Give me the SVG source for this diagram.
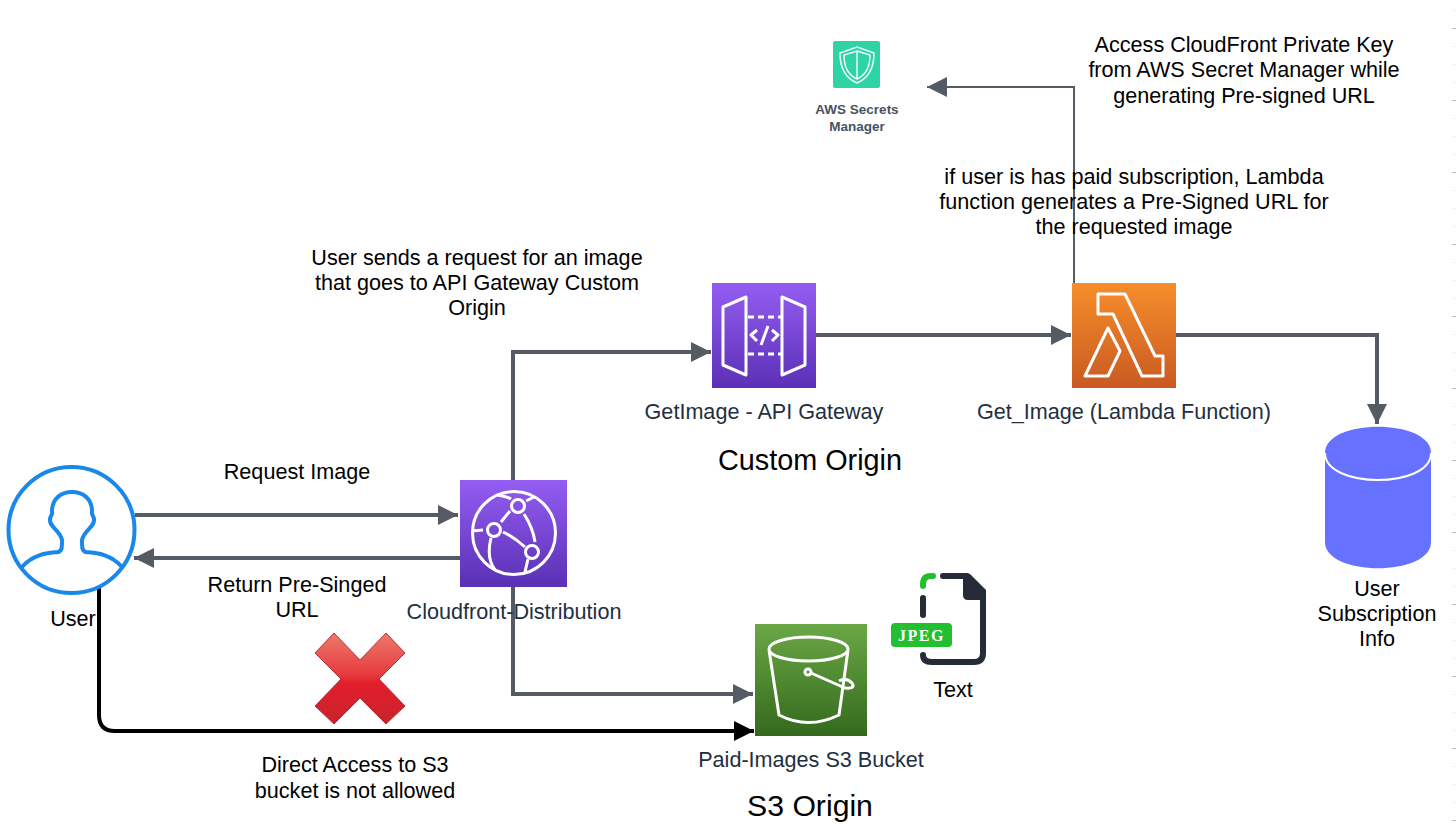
<svg xmlns="http://www.w3.org/2000/svg" width="1456" height="836" viewBox="0 0 1456 836">
<style>
text{font-family:"Liberation Sans",Arial,sans-serif;font-size:21.600px;fill:#000;text-anchor:middle}
.aws{fill:#232f3e}
.big{font-size:28.800px}
.w{fill:none;stroke:#fff;stroke-width:3;stroke-linejoin:round}
.c{fill:none;stroke:#545b64;stroke-width:4}
.b{fill:none;stroke:#000;stroke-width:4}
.u{fill:none;stroke:#1a88ea;stroke-width:4}
</style>
<defs>
<linearGradient id="pur" x1="0" y1="0" x2="0" y2="1"><stop offset="0" stop-color="#945df2"/><stop offset="1" stop-color="#5a30b5"/></linearGradient>
<linearGradient id="ora" x1="0" y1="0" x2="0" y2="1"><stop offset="0" stop-color="#f78e2a"/><stop offset="1" stop-color="#c95a22"/></linearGradient>
<linearGradient id="grn" x1="0" y1="0" x2="0" y2="1"><stop offset="0" stop-color="#6aa845"/><stop offset="1" stop-color="#34691d"/></linearGradient>
<linearGradient id="red" x1="0" y1="0" x2="0" y2="1"><stop offset="0" stop-color="#ee7a6a"/><stop offset="0.45" stop-color="#e63c40"/><stop offset="0.55" stop-color="#e21f2b"/><stop offset="1" stop-color="#c9232c"/></linearGradient>
<marker id="ag" markerUnits="userSpaceOnUse" markerWidth="22" markerHeight="22" refX="20" refY="10" orient="auto"><path d="M0 0L20 10L0 20z" fill="#545b64"/></marker>
<marker id="ak" markerUnits="userSpaceOnUse" markerWidth="22" markerHeight="22" refX="20" refY="10" orient="auto"><path d="M0 0L20 10L0 20z" fill="#000"/></marker>
</defs>
<g id="ruler">
<path stroke="#eee" stroke-width="1" d="M1453 10.500h3M1453 46.500h3M1453 64.500h3M1453 82.500h3M1453 118.500h3M1453 136.500h3M1453 154.500h3M1453 190.500h3M1453 208.500h3M1453 226.500h3M1453 262.500h3M1453 280.500h3M1453 298.500h3M1453 334.500h3M1453 352.500h3M1453 370.500h3M1453 406.500h3M1453 424.500h3M1453 442.500h3M1453 478.500h3M1453 496.500h3M1453 514.500h3M1453 550.500h3M1453 568.500h3M1453 586.500h3M1453 622.500h3M1453 640.500h3M1453 658.500h3M1453 694.500h3M1453 712.500h3M1453 730.500h3M1453 766.500h3M1453 784.500h3M1453 802.500h3"/>
<path stroke="#bbb" stroke-width="1" d="M1452 28.500h4M1452 100.500h4M1452 172.500h4M1452 244.500h4M1452 316.500h4M1452 388.500h4M1452 460.500h4M1452 532.500h4M1452 604.500h4M1452 676.500h4M1452 748.500h4M1452 820.500h4"/>
</g>
<g id="connectors">
<path class="c" d="M135 515H458" marker-end="url(#ag)"/>
<path class="c" d="M460 558H134" marker-end="url(#ag)"/>
<path class="c" d="M513 480V352H711" marker-end="url(#ag)"/>
<path class="c" d="M513 587V694H753" marker-end="url(#ag)"/>
<path class="b" d="M99 587V715Q99 731 115 731H754" marker-end="url(#ak)"/>
<path class="c" d="M816 335H1071" marker-end="url(#ag)"/>
<path class="c" style="stroke-width:2" d="M1074 283V87H927" marker-end="url(#ag)"/>
<path class="c" d="M1176 335H1377V424" marker-end="url(#ag)"/>
</g>
<g id="user">
<circle class="u" cx="71.500" cy="530" r="63"/>
<path class="u" d="M22 567C34 553 50 553 58 552C62 551 62 548 62 540C60 530 49 527 50 519C50 516 53 515 52 511C52 498 62 492 72 492C82 492 92 498 92 511C91 515 94 516 94 519C95 527 84 530 82 540C82 548 82 551 86 552C94 553 110 553 122 567"/>
<text x="73" y="626">User</text>
</g>
<g id="cloudfront">
<rect x="460" y="480" width="107" height="107" fill="url(#pur)"/>
<circle class="w" cx="514" cy="533" r="41.500"/>
<circle class="w" cx="518" cy="506" r="6.500"/>
<circle class="w" cx="494" cy="530" r="6.500"/>
<circle class="w" cx="532" cy="552" r="6.500"/>
<path class="w" d="M498 495Q508 497 511 499M526 501L534 497M510 511L501 522M524 514Q533 528 535 542M503 532Q514 537 525 547M472 531L483 530M491 538Q486 558 495 570M528 559L525 572"/>
<text class="aws" x="514" y="619">Cloudfront-Distribution</text>
</g>
<g id="api-gateway">
<rect x="712" y="283" width="104" height="105" fill="url(#pur)"/>
<path class="w" d="M746 297L723 307V365L746 375zM782 297L805 307V365L782 375z"/>
<path class="w" stroke-dasharray="6 4" d="M748 317H781M748 354H781"/>
<path class="w" d="M757 330L751 335L757 341M772 330L778 335L772 341M768 326L761 345"/>
<text class="aws" x="764" y="419">GetImage - API Gateway</text>
</g>
<g id="lambda">
<rect x="1072" y="283" width="104" height="105" fill="url(#ora)"/>
<path class="w" d="M1098 294H1125L1155 356H1163V376H1142L1113 314H1098zM1108 328L1120 351L1108 376H1085z"/>
<text class="aws" x="1124" y="419">Get_Image (Lambda Function)</text>
</g>
<g id="s3">
<rect x="755" y="624" width="112" height="112" fill="url(#grn)"/>
<path class="w" d="M769 650L779 715Q808 730 839 715L848 650"/>
<ellipse class="w" cx="808.500" cy="649" rx="39.500" ry="12"/>
<circle class="w" cx="808" cy="672" r="3"/>
<path class="w" d="M811 673L845 688Q856 689 852 683Q846 677 839 681"/>
<text class="aws" x="811" y="767">Paid-Images S3 Bucket</text>
</g>
<g id="secrets">
<rect x="833" y="41" width="47" height="47" rx="2" fill="#2ed3a6"/>
<path d="M857 47L874 53C874 68 869 78 857 83C845 78 840 68 840 53z" fill="none" stroke="#fff" stroke-width="1.500" opacity=".9"/>
<path d="M857 51L870 55C870 68 866 75 857 79C848 75 844 68 844 55zM857 51V79" fill="none" stroke="#fff" stroke-width="1.500" opacity=".9"/>
<text x="857" y="114" style="font-size:13.500px;font-weight:bold;fill:#4a5360">AWS Secrets</text>
<text x="857" y="131" style="font-size:13.500px;font-weight:bold;fill:#4a5360">Manager</text>
</g>
<g id="jpeg">
<path d="M923 586V584Q923 576 931 576H933" fill="none" stroke="#22c02f" stroke-width="6" stroke-linecap="round"/>
<path d="M923 598V615M923 655Q923 662 932 662H974Q983 662 983 653V592L967 576H943" fill="none" stroke="#262b38" stroke-width="6" stroke-linecap="round"/>
<path d="M963 574H970L986 590V600H968Q963 600 963 595z" fill="#262b38"/>
<rect x="891" y="623" width="61" height="24" rx="4" fill="#22c02f"/>
<text x="921.500" y="641" style="font-family:'Liberation Serif',serif;font-size:16px;font-weight:bold;fill:#fff;letter-spacing:1.500px">JPEG</text>
<text x="953" y="697">Text</text>
</g>
<g id="cross">
<path d="M334 633L360 660L386 633L405 653L379 679L405 706L386 724L360 698L334 724L315 706L341 679L315 653z" fill="url(#red)" stroke="#b8313a" stroke-width="1"/>
</g>
<g id="db">
<path d="M1325 453C1325 418 1431 418 1431 453V542C1431 577 1325 577 1325 542z" fill="#6771ff"/>
<path d="M1325 453C1325 489 1431 489 1431 453" fill="none" stroke="#fff" stroke-width="2"/>
<text x="1377" y="596">User</text>
<text x="1377" y="621">Subscription</text>
<text x="1377" y="646">Info</text>
</g>
<g id="labels">
<text x="1244" y="52">Access CloudFront Private Key</text>
<text x="1244" y="77">from AWS Secret Manager while</text>
<text x="1244" y="103">generating Pre-signed URL</text>
<text x="1134" y="184">if user is has paid subscription, Lambda</text>
<text x="1134" y="209">function generates a Pre-Signed URL for</text>
<text x="1134" y="234">the requested image</text>
<text x="477" y="265">User sends a request for an image</text>
<text x="477" y="290">that goes to API Gateway Custom</text>
<text x="477" y="315">Origin</text>
<text x="297" y="479">Request Image</text>
<text x="297" y="592">Return Pre-Singed</text>
<text x="297" y="617">URL</text>
<text x="355" y="772">Direct Access to S3</text>
<text x="355" y="798">bucket is not allowed</text>
<text class="big" x="810" y="470">Custom Origin</text>
<text class="big" x="810" y="816" style="font-size:30.200px">S3 Origin</text>
</g>
</svg>
